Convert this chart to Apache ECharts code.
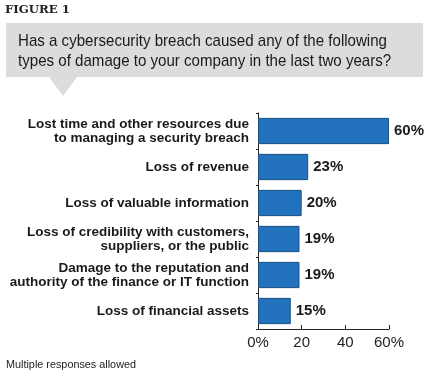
<!DOCTYPE html>
<html>
<head>
<meta charset="utf-8">
<script src="https://cdn.jsdelivr.net/npm/echarts@6/dist/echarts.min.js"></script>
<style>
html,body{margin:0;padding:0;background:#fff;}
#c{width:425px;height:375px;}
</style>
</head>
<body>
<div id="c"></div>
<script>
var categories = [
  "Lost time and other resources due\nto managing a security breach",
  "Loss of revenue",
  "Loss of valuable information",
  "Loss of credibility with customers,\nsuppliers, or the public",
  "Damage to the reputation and\nauthority of the finance or IT function",
  "Loss of financial assets"
];
var values = [60, 23, 20, 19, 19, 15];
var tickLabels = {0: "0%", 20: "20", 40: "40", 60: "60%"};
var figureLabel = "FIGURE 1";
var questionLines = [
  "Has a cybersecurity breach caused any of the following",
  "types of damage to your company in the last two years?"
];
var note = "Multiple responses allowed";

var sans = "'Liberation Sans', Arial, sans-serif";
var titleFont = "17px " + sans;
var cv = document.createElement('canvas').getContext('2d');
cv.font = titleFont;
var titleScale = 369 / cv.measureText(questionLines[0]).width;
cv.font = "11px " + sans;
var noteScale = 130 / cv.measureText(note).width;
var figFont = "bold 11px 'DejaVu Serif', serif";
cv.font = figFont;
var figScale = 65 / cv.measureText(figureLabel).width;

var chart = echarts.init(document.getElementById('c'), null, {renderer: 'canvas'});
chart.setOption({
  animation: false,
  backgroundColor: '#ffffff',
  grid: {left: 258, right: 36, top: 113, bottom: 46, containLabel: false},
  xAxis: {
    type: 'value', min: 0, max: 60, interval: 20,
    axisLine: {show: true, lineStyle: {color: '#222', width: 1}},
    axisTick: {show: true, inside: true, length: 4, lineStyle: {color: '#222'}},
    splitLine: {show: false},
    axisLabel: {
      formatter: function (v) { return tickLabels[v] !== undefined ? tickLabels[v] : ''; },
      color: '#222', fontFamily: sans, fontSize: 15, margin: 6
    }
  },
  yAxis: {
    type: 'category', data: categories, inverse: true,
    axisLine: {show: true, lineStyle: {color: '#222', width: 1}},
    axisTick: {show: true, length: 2, lineStyle: {color: '#222'}},
    axisLabel: {
      color: '#1a1a1a', fontFamily: sans, fontWeight: 'bold', fontSize: 13.5,
      lineHeight: 14, margin: 9, align: 'right'
    }
  },
  series: [{
    type: 'bar', data: values, barCategoryGap: '27%',
    itemStyle: {color: '#2272bd', borderColor: '#1c4f80', borderWidth: 1},
    label: {
      show: true, position: 'right', distance: 5,
      formatter: '{c}%', color: '#1a1a1a', fontFamily: sans,
      fontWeight: 'bold', fontSize: 15
    }
  }],
  graphic: [
    {type: 'text', x: 5, y: 5, scaleX: figScale, style: {text: figureLabel, fill: '#222', font: figFont}},
    {type: 'rect', shape: {x: 6, y: 23, width: 417, height: 54}, style: {fill: '#dcdcdc'}},
    {type: 'polygon', shape: {points: [[49, 77], [77, 77], [63, 96]]}, style: {fill: '#dcdcdc'}},
    {type: 'text', x: 18, y: 31, scaleX: titleScale, style: {text: questionLines.join('\n'), fill: '#1a1a1a', font: titleFont, lineHeight: 20}},
    {type: 'text', x: 6, y: 359, scaleX: noteScale, style: {text: note, fill: '#222', font: "11px " + sans}}
  ]
});
</script>
</body>
</html>
